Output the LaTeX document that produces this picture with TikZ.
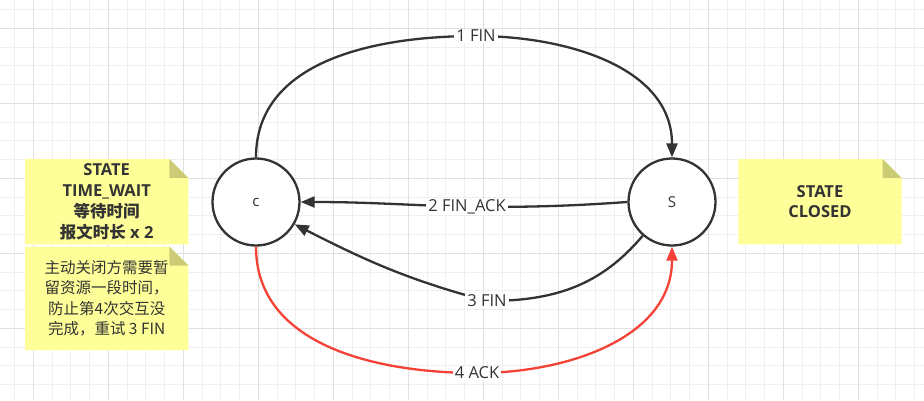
\documentclass[tikz,border=0pt]{standalone}
\usepackage{fontspec}
\setmainfont{Open Sans}
\newfontfamily\cjk{Noto Sans CJK SC}
\usetikzlibrary{arrows.meta}
\pgfdeclarelayer{gridlayer}
\pgfdeclarelayer{bglayer}
\pgfsetlayers{gridlayer,bglayer,main}
\definecolor{ink}{HTML}{333333}
\definecolor{redline}{HTML}{F44336}
\definecolor{notefill}{HTML}{FFFF99}
\definecolor{notefold}{HTML}{CCCC77}
\definecolor{minorgrid}{HTML}{EFEFEF}
\definecolor{majorgrid}{HTML}{E0E0E0}
\tikzset{
  state/.style={circle, draw=ink, line width=2.3pt, fill=white, minimum size=87pt,
    inner sep=0pt, text=ink, font=\fontsize{15}{17}\selectfont},
  conn/.style={draw=ink, line width=2.3pt, -{Triangle[length=14pt,width=11pt]}},
  redconn/.style={draw=redline, line width=2.3pt, -{Triangle[length=14pt,width=11pt]}},
  lbl/.style={fill=white, inner xsep=2pt, inner ysep=1pt, text=ink,
    font=\fontsize{16.5}{18}\selectfont},
  notebox/.style={inner sep=0pt, align=center, text=ink},
  minorline/.style={draw=minorgrid, line width=1pt},
  majorline/.style={draw=majorgrid, line width=1pt},
}
\newcommand\drawnote[1]{%
  \fill[notefill] (#1.south west) -- (#1.north west) -- ([xshift=-19pt]#1.north east)
    -- ([yshift=-19pt]#1.north east) -- (#1.south east) -- cycle;
  \fill[notefold] ([xshift=-19pt]#1.north east) -- ([xshift=-19pt,yshift=-19pt]#1.north east)
    -- ([yshift=-19pt]#1.north east) -- cycle;}
\begin{document}
\begin{tikzpicture}[x=1pt,y=1pt]
\useasboundingbox (0,0) rectangle (924,-400);
\begin{pgfonlayer}{gridlayer}
  \fill[white] (0,0) rectangle (924,-400);
  \foreach \i in {0,...,49} {\draw[minorline] ({14.55+\i*18.75},0) -- ++(0,-400);}
  \foreach \i in {0,...,21} {\draw[minorline] (0,{-9.55-\i*18.75}) -- ++(924,0);}
  \foreach \i in {0,...,12} {\draw[majorline] ({33.3+\i*75},0) -- ++(0,-400);}
  \foreach \i in {0,...,5} {\draw[majorline] (0,{-28.3-\i*75}) -- ++(924,0);}
\end{pgfonlayer}

% states
\node[state] (c) at (256,-202) {c};
\node[state] (S) at (672,-202) {S};

% label positions
\coordinate (p1) at (476,-36);
\coordinate (p2) at (467,-207);
\coordinate (p3) at (487,-301);
\coordinate (p4) at (477,-373);

% connectors
\draw[conn] (c.north) to[out=90,in=180] (p1) to[out=0,in=90] (S.north);
\draw[conn] (S.west) to[out=184,in=0] (p2) to[out=178,in=0] (c.east);
\draw[conn] (S.229) to[out=-130,in=0] (p3) to[out=165,in=-27] (c.-30);
\draw[redconn] (c.south) to[out=-90,in=180] (p4) to[out=0,in=-90] (S.south);

% labels
\node[lbl] (l1) at (p1) {1 FIN};
\node[lbl] (l2) at (p2) {2 FIN\_ACK};
\node[lbl] (l3) at (p3) {3 FIN};
\node[lbl] (l4) at (p4) {4 ACK};

% notes
\node[notebox, minimum width=163pt, minimum height=85pt,
  font=\bfseries\fontsize{16.5}{21}\selectfont] (n1) at (106.7,-201.7)
  {STATE\\TIME\_WAIT\\{\cjk\bfseries 等待时间}\\{\cjk\bfseries 报文时长} x 2};
\node[notebox, minimum width=163pt, minimum height=103pt,
  font=\cjk\fontsize{15.5}{20.5}\selectfont] (n2) at (106.7,-298.3)
  {主动关闭方需要暂\\留资源一段时间，\\防止第4次交互没\\完成，重试 3 FIN};
\node[notebox, minimum width=163pt, minimum height=85pt,
  font=\bfseries\fontsize{16.5}{20}\selectfont] (n3) at (820,-201.7)
  {STATE\\CLOSED};
\begin{pgfonlayer}{bglayer}
  \drawnote{n1}
  \drawnote{n2}
  \drawnote{n3}
\end{pgfonlayer}
\end{tikzpicture}
\end{document}
